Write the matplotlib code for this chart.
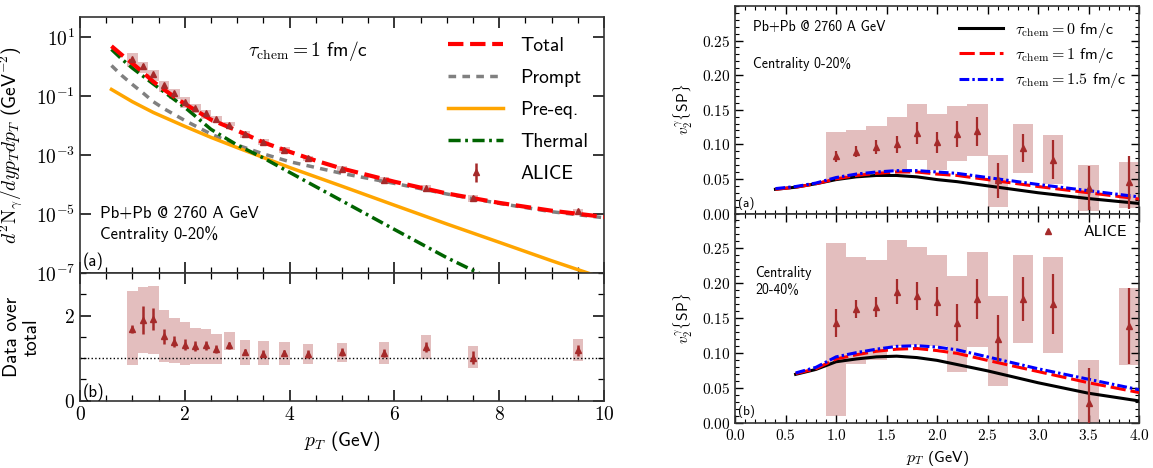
import numpy as np
import matplotlib
matplotlib.use('Agg')
import matplotlib.pyplot as plt
from matplotlib.ticker import MultipleLocator, FixedLocator, FuncFormatter, NullLocator

plt.rcParams['font.family'] = ['cmss10', 'DejaVu Sans']
plt.rcParams['mathtext.fontset'] = 'cm'
plt.rcParams['axes.formatter.use_mathtext'] = True
plt.rcParams['axes.linewidth'] = 1.2
plt.rcParams['axes.edgecolor'] = '#333333'

# ---------------- left: photon spectra, tau_chem = 1 fm/c ----------------
pt_total = [0.6, 0.8, 1.0, 1.2, 1.4, 1.6, 1.8, 2.0, 2.5, 3.0, 3.5, 4.0, 4.5, 5.0, 6.0, 7.0, 8.0, 9.0, 10.0]
total = [5.0, 2.5, 1.3, 0.65, 0.31, 0.17, 0.095, 0.055, 0.016, 0.0068, 0.0027, 0.0013,
         6.5e-4, 3.5e-4, 1.25e-4, 5.0e-5, 2.4e-5, 1.3e-5, 8.0e-6]

pt_prompt = [0.6, 0.8, 1.0, 1.2, 1.4, 1.6, 2.0, 2.5, 3.0, 3.5, 4.0, 5.0, 6.0, 7.0, 8.0, 9.0, 10.0]
prompt = [1.1, 0.5, 0.25, 0.13, 0.065, 0.038, 0.015, 0.0052, 0.0022, 0.0011, 6.0e-4,
          2.4e-4, 1.1e-4, 4.8e-5, 2.3e-5, 1.2e-5, 7.5e-6]

pt_preeq = [0.6, 1.0, 1.4, 2.0, 2.5, 3.0, 3.5, 4.0, 5.0, 6.0, 7.0, 8.0, 9.0, 10.0]
preeq = [0.17, 0.065, 0.028, 0.0095, 0.004, 0.0018, 8.3e-4, 3.8e-4, 8.8e-5, 2.0e-5,
         4.6e-6, 1.1e-6, 2.6e-7, 6.5e-8]

pt_thermal = [0.6, 0.8, 1.0, 1.4, 2.0, 2.5, 3.0, 3.5, 4.0, 4.5, 5.0, 6.0, 7.0, 7.6, 8.0]
thermal = [3.9, 1.8, 0.9, 0.26, 0.042, 0.0075, 0.0022, 8.0e-4, 2.6e-4, 8.5e-5, 2.8e-5,
           3.0e-6, 3.3e-7, 1.0e-7, 4.0e-8]

# ALICE direct photon yield and data/total ratio
pt_alice = [1.0, 1.2, 1.4, 1.6, 1.8, 2.0, 2.2, 2.4, 2.6, 2.85, 3.15, 3.5, 3.9, 4.35, 5.0, 5.8, 6.6, 7.5, 9.5]
yield_alice = [1.9, 1.06, 0.557, 0.236, 0.124, 0.065, 0.040, 0.026, 0.0166, 0.0104, 0.0052,
               0.0028, 0.0015, 7.8e-4, 3.5e-4, 1.45e-4, 7.8e-5, 3.4e-5, 1.23e-5]
ratio = [1.69, 1.90, 1.92, 1.51, 1.39, 1.32, 1.28, 1.30, 1.21, 1.30, 1.14, 1.10, 1.12, 1.10, 1.14, 1.12, 1.26, 1.01, 1.18]
ratio_err = [0.09, 0.33, 0.26, 0.17, 0.12, 0.13, 0.12, 0.11, 0.10, 0.08, 0.07, 0.08, 0.08, 0.09, 0.09, 0.10, 0.12, 0.15, 0.14]
ratio_sys_lo = [0.85, 1.12, 1.10, 0.91, 0.89, 0.83, 0.86, 0.87, 0.87, 1.18, 0.85, 0.85, 0.85, 0.87, 0.91, 0.87, 0.99, 0.77, 0.93]
ratio_sys_hi = [2.57, 2.68, 2.70, 2.12, 1.95, 1.84, 1.71, 1.69, 1.56, 1.62, 1.43, 1.40, 1.39, 1.34, 1.36, 1.38, 1.55, 1.29, 1.46]

# ---------------- right: v2 ----------------
pt_v2a_th = [0.4, 0.6, 0.8, 1.0, 1.2, 1.4, 1.6, 1.8, 2.0, 2.2, 2.5, 3.0, 3.5, 4.0]
v2a_tau0 = [0.035, 0.038, 0.043, 0.049, 0.053, 0.055, 0.055, 0.053, 0.049, 0.046, 0.040, 0.030, 0.0216, 0.0145]
v2a_tau1 = [0.035, 0.038, 0.043, 0.050, 0.055, 0.058, 0.060, 0.060, 0.057, 0.055, 0.049, 0.039, 0.030, 0.021]
v2a_tau15 = [0.036, 0.039, 0.044, 0.052, 0.057, 0.060, 0.062, 0.062, 0.060, 0.058, 0.052, 0.042, 0.033, 0.024]

pt_v2b_th = [0.6, 0.8, 1.0, 1.2, 1.4, 1.6, 1.8, 2.0, 2.2, 2.5, 3.0, 3.5, 4.0]
v2b_tau0 = [0.070, 0.077, 0.088, 0.092, 0.095, 0.096, 0.094, 0.090, 0.084, 0.075, 0.058, 0.043, 0.032]
v2b_tau1 = [0.071, 0.078, 0.092, 0.098, 0.103, 0.106, 0.107, 0.104, 0.100, 0.090, 0.074, 0.058, 0.044]
v2b_tau15 = [0.072, 0.080, 0.095, 0.101, 0.106, 0.110, 0.111, 0.109, 0.105, 0.095, 0.078, 0.063, 0.048]

pt_v2 = [1.0, 1.2, 1.4, 1.6, 1.8, 2.0, 2.2, 2.4, 2.6, 2.85, 3.15, 3.5, 3.9]
v2a = [0.083, 0.089, 0.096, 0.100, 0.116, 0.103, 0.115, 0.119, 0.048, 0.095, 0.078, 0.037, 0.045]
v2a_err = [0.008, 0.008, 0.010, 0.012, 0.016, 0.015, 0.019, 0.021, 0.025, 0.020, 0.028, 0.032, 0.038]
v2a_sys_lo = [0.050, 0.055, 0.059, 0.061, 0.078, 0.063, 0.076, 0.083, 0.009, 0.059, 0.042, 0.003, 0.008]
v2a_sys_hi = [0.118, 0.121, 0.127, 0.139, 0.158, 0.144, 0.155, 0.158, 0.084, 0.130, 0.114, 0.070, 0.075]

v2b = [0.143, 0.164, 0.166, 0.188, 0.182, 0.174, 0.144, 0.178, 0.121, 0.178, 0.170, 0.029, 0.139]
v2b_err = [0.020, 0.013, 0.014, 0.018, 0.020, 0.021, 0.026, 0.029, 0.034, 0.031, 0.043, 0.050, 0.054]
v2b_sys_lo = [0.010, 0.085, 0.090, 0.110, 0.112, 0.110, 0.074, 0.109, 0.054, 0.115, 0.101, -0.02, 0.084]
v2b_sys_hi = [0.258, 0.238, 0.234, 0.262, 0.252, 0.240, 0.210, 0.245, 0.182, 0.241, 0.238, 0.090, 0.193]

brown = '#a52a2a'
box_alpha = 0.3

fig = plt.figure(figsize=(11.53, 4.68), dpi=100)
ax1 = fig.add_axes([0.0694, 0.4167, 0.4545, 0.5476])
ax2 = fig.add_axes([0.0694, 0.1438, 0.4545, 0.2729], sharex=ax1)
ax3 = fig.add_axes([0.6375, 0.5438, 0.3504, 0.4434])
ax4 = fig.add_axes([0.6375, 0.0955, 0.3504, 0.4483], sharex=ax3)

# ---- spectra ----
pt_a = np.array(pt_alice)
y_a = np.array(yield_alice)
r = np.array(ratio)
ax1.bar(pt_a, y_a * (np.array(ratio_sys_hi) - np.array(ratio_sys_lo)) / r, width=0.2,
        bottom=y_a * np.array(ratio_sys_lo) / r, color=brown, alpha=box_alpha, lw=0, zorder=1)
ax1.plot(pt_total, total, color='red', lw=3, dashes=(3.7, 1.6), label='Total', zorder=4)
ax1.plot(pt_prompt, prompt, color='gray', lw=2.5, dashes=(2.2, 1.8), label='Prompt', zorder=3)
ax1.plot(pt_preeq, preeq, color='orange', lw=2.5, label='Pre-eq.', zorder=3)
ax1.plot(pt_thermal, thermal, color='darkgreen', lw=2.5, dashes=(3.5, 1.3, 0.8, 1.3), label='Thermal', zorder=3)
ax1.errorbar(pt_a, y_a, yerr=y_a * np.array(ratio_err) / r, fmt='^', ms=4.5, color=brown,
             elinewidth=1.8, capsize=0, label='ALICE', zorder=5)
ax1.set_yscale('log')
ax1.set_xlim(0, 10)
ax1.set_ylim(1e-7, 50)
ax1.yaxis.set_major_locator(FixedLocator([1e-7, 1e-5, 1e-3, 1e-1, 1e1]))
ax1.yaxis.set_minor_locator(NullLocator())
ax1.yaxis.set_major_formatter(FuncFormatter(lambda v, p: r'$10^{%d}$' % round(np.log10(v))))
ax1.set_ylabel(r'$d^2\mathrm{N}_\gamma/dyp_Tdp_T$ (GeV$^{-2}$)', fontsize=14)
ax1.yaxis.set_label_coords(-0.105, 0.5)
ax1.legend(loc='upper right', bbox_to_anchor=(0.985, 0.95), frameon=False, fontsize=14,
           handlelength=2.8, handletextpad=0.9, labelspacing=0.72, borderaxespad=0)
ax1.text(0.32, 0.865, r'$\tau_{\rm chem} = 1$ fm/c', transform=ax1.transAxes, fontsize=14, va='center')
ax1.text(0.038, 0.26, 'Pb+Pb @ 2760 A GeV\nCentrality 0-20%', transform=ax1.transAxes,
         fontsize=12, va='top', linespacing=1.35)
ax1.text(0.006, 0.045, '(a)', transform=ax1.transAxes, fontsize=12, va='center')

# ---- ratio ----
ax2.bar(pt_a, np.array(ratio_sys_hi) - np.array(ratio_sys_lo), width=0.2, bottom=ratio_sys_lo,
        color=brown, alpha=box_alpha, lw=0, zorder=1)
ax2.errorbar(pt_a, r, yerr=ratio_err, fmt='^', ms=4.5, color=brown, elinewidth=1.8, capsize=0, zorder=3)
ax2.axhline(1.0, color='black', lw=1.0, ls=':', zorder=2)
ax2.set_ylim(0, 3)
ax2.yaxis.set_major_locator(FixedLocator([0, 2]))
ax2.yaxis.set_minor_locator(MultipleLocator(0.5))
ax2.yaxis.set_major_formatter(FuncFormatter(lambda v, p: r'$%d$' % v))
ax2.set_ylabel('Data over\ntotal', fontsize=14, linespacing=1.1)
ax2.yaxis.set_label_coords(-0.075, 0.5)
ax2.set_xlabel(r'$p_T$ (GeV)', fontsize=14)
ax2.text(0.006, 0.07, '(b)', transform=ax2.transAxes, fontsize=12, va='center')

for ax in (ax1, ax2):
    ax.xaxis.set_major_locator(MultipleLocator(2))
    ax.xaxis.set_minor_locator(MultipleLocator(0.5))
    ax.xaxis.set_major_formatter(FuncFormatter(lambda v, p: r'$%d$' % v))
    ax.tick_params(which='both', direction='in', top=True, right=True, labelsize=14)
    ax.tick_params(which='major', length=8, width=1.1)
    ax.tick_params(which='minor', length=4.5, width=0.9)
ax1.tick_params(labelbottom=False)

# ---- v2 ----
pt_v = np.array(pt_v2)
for ax, vth, pth, v, verr, slo, shi in (
        (ax3, (v2a_tau0, v2a_tau1, v2a_tau15), pt_v2a_th, v2a, v2a_err, v2a_sys_lo, v2a_sys_hi),
        (ax4, (v2b_tau0, v2b_tau1, v2b_tau15), pt_v2b_th, v2b, v2b_err, v2b_sys_lo, v2b_sys_hi)):
    ax.bar(pt_v, np.array(shi) - np.array(slo), width=0.2, bottom=slo,
           color=brown, alpha=box_alpha, lw=0, zorder=1)
    ax.plot(pth, vth[0], color='black', lw=2.2, label=r'$\tau_{\rm chem} = 0$ fm/c', zorder=3)
    ax.plot(pth, vth[1], color='red', lw=2.2, dashes=(5, 1.6), label=r'$\tau_{\rm chem} = 1$ fm/c', zorder=3)
    ax.plot(pth, vth[2], color='blue', lw=2.2, dashes=(3.2, 1.0, 0.8, 1.0),
            label=r'$\tau_{\rm chem} = 1.5$ fm/c', zorder=3)
    ax.errorbar(pt_v, v, yerr=verr, fmt='none', ecolor=brown, elinewidth=1.6, capsize=0, zorder=4)
    ax.plot(pt_v, v, '^', ms=4, color=brown, ls='none', label='ALICE', zorder=5)
    ax.set_xlim(0, 4)
    ax.set_ylim(0, 0.30)
    ax.xaxis.set_major_locator(MultipleLocator(0.5))
    ax.xaxis.set_minor_locator(MultipleLocator(0.1))
    ax.xaxis.set_major_formatter(FuncFormatter(lambda x, p: r'$%.1f$' % x))
    ax.yaxis.set_major_locator(FixedLocator([0, 0.05, 0.10, 0.15, 0.20, 0.25]))
    ax.yaxis.set_minor_locator(MultipleLocator(0.01))
    ax.yaxis.set_major_formatter(FuncFormatter(lambda y, p: r'$%.2f$' % y))
    ax.tick_params(which='both', direction='in', top=True, right=True, labelsize=11)
    ax.tick_params(which='major', length=6, width=1.0)
    ax.tick_params(which='minor', length=3, width=0.8)
    ax.set_ylabel(r'$v_2^\gamma\{\mathsf{SP}\}$', fontsize=11)
    ax.yaxis.set_label_coords(-0.1, 0.5)
ax3.tick_params(labelbottom=False)

h, l = ax3.get_legend_handles_labels()
ax3.legend(h[:3], l[:3], loc='upper right', bbox_to_anchor=(0.985, 0.96), frameon=False, fontsize=11.5,
           handlelength=2.7, handletextpad=0.8, labelspacing=0.4, borderaxespad=0)
h, l = ax4.get_legend_handles_labels()
ax4.legend(h[3:], l[3:], loc='upper right', bbox_to_anchor=(0.985, 0.975), frameon=False, fontsize=11.5,
           handlelength=2.8, handletextpad=0.8, borderaxespad=0)
ax3.text(0.045, 0.90, 'Pb+Pb @ 2760 A GeV', transform=ax3.transAxes, fontsize=10, va='center')
ax3.text(0.045, 0.72, 'Centrality 0-20%', transform=ax3.transAxes, fontsize=10, va='center')
ax3.text(0.007, 0.05, '(a)', transform=ax3.transAxes, fontsize=9.5, va='center')
ax4.text(0.05, 0.675, 'Centrality\n20-40%', transform=ax4.transAxes, fontsize=10, va='center', linespacing=1.3)
ax4.text(0.007, 0.055, '(b)', transform=ax4.transAxes, fontsize=9.5, va='center')
ax4.set_xlabel(r'$p_T$ (GeV)', fontsize=11.5)

fig.savefig('out.png', dpi=100)
